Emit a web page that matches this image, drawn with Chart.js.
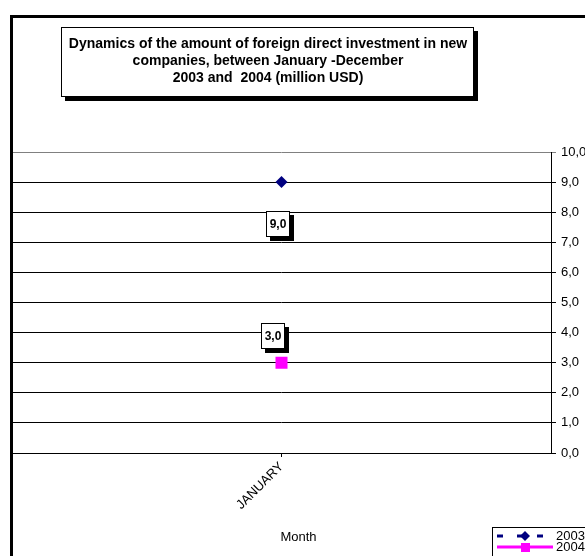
<!DOCTYPE html>
<html>
<head>
<meta charset="utf-8">
<script src="https://cdn.jsdelivr.net/npm/chart.js@4/dist/chart.umd.min.js"></script>
<style>
  html, body { margin: 0; padding: 0; background: #ffffff; }
  #c { display: block; }
</style>
</head>
<body>
<canvas id="c" width="585" height="556"></canvas>
<script>
const categories = ['JANUARY'];
const values2003 = [9.0];
const values2004 = [3.0];
const seriesNames = ['2003', '2004'];
const titleLines = [
  'Dynamics of the amount of foreign direct investment in new',
  'companies, between January -December',
  '2003 and  2004 (million USD)'
];
const xAxisTitle = 'Month';
const FONT = "Arial, 'Liberation Sans', sans-serif";

function fmt(v) { return Number(v).toFixed(1).replace('.', ','); }

function shadowBox(ctx, x, y, w, h, off) {
  ctx.fillStyle = '#000';
  ctx.fillRect(x + off, y + off, w, h);
  ctx.fillStyle = '#fff';
  ctx.fillRect(x, y, w, h);
  ctx.strokeStyle = '#000';
  ctx.lineWidth = 1;
  ctx.strokeRect(x + 0.5, y + 0.5, w - 1, h - 1);
}

const decor = {
  id: 'decor',
  afterDraw(chart) {
    const ctx = chart.ctx;
    const area = chart.chartArea;
    ctx.save();
    // outer frame
    ctx.strokeStyle = '#000';
    ctx.lineWidth = 3;
    ctx.strokeRect(11.5, 16.5, 600, 600);
    // title box
    shadowBox(ctx, 61, 27, 413, 70, 4);
    ctx.fillStyle = '#000';
    ctx.font = 'bold 14px ' + FONT;
    ctx.textAlign = 'center';
    ctx.textBaseline = 'middle';
    titleLines.forEach((t, i) => ctx.fillText(t, 268, 44 + i * 17));
    // data labels
    const labelOffsets = [[-4, 42], [-9, -27]];
    chart.data.datasets.forEach((ds, di) => {
      const meta = chart.getDatasetMeta(di);
      meta.data.forEach((pt, i) => {
        const cx = pt.x + labelOffsets[di][0];
        const cy = pt.y + labelOffsets[di][1];
        const w = 24, h = 26;
        shadowBox(ctx, Math.round(cx - w / 2), Math.round(cy - h / 2), w, h, 4);
        ctx.fillStyle = '#000';
        ctx.font = 'bold 12px ' + FONT;
        ctx.textAlign = 'center';
        ctx.textBaseline = 'middle';
        ctx.fillText(fmt(ds.data[i]), Math.round(cx), Math.round(cy) + 1);
      });
    });
    // x axis title
    ctx.fillStyle = '#000';
    ctx.font = '13px ' + FONT;
    ctx.textAlign = 'center';
    ctx.textBaseline = 'middle';
    ctx.fillText(xAxisTitle, (area.left + area.right) / 2 + 17, 537);
    // legend
    ctx.fillStyle = '#fff';
    ctx.fillRect(492, 527, 100, 40);
    ctx.strokeStyle = '#000';
    ctx.lineWidth = 1;
    ctx.strokeRect(492.5, 527.5, 100, 40);
    chart.data.datasets.forEach((ds, di) => {
      const y = 536 + di * 11;
      ctx.strokeStyle = ds.borderColor;
      ctx.lineWidth = 3;
      ctx.setLineDash(ds.borderDash || []);
      ctx.beginPath();
      ctx.moveTo(497, y);
      ctx.lineTo(553, y);
      ctx.stroke();
      ctx.setLineDash([]);
      ctx.fillStyle = ds.pointBackgroundColor;
      if (ds.pointStyle === 'rectRot') {
        ctx.beginPath();
        ctx.moveTo(525, y - 5); ctx.lineTo(530, y); ctx.lineTo(525, y + 5); ctx.lineTo(520, y);
        ctx.closePath(); ctx.fill();
      } else {
        ctx.fillRect(521, y - 4, 9, 9);
      }
      ctx.fillStyle = '#000';
      ctx.font = '13px ' + FONT;
      ctx.textAlign = 'left';
      ctx.textBaseline = 'middle';
      ctx.fillText(ds.label, 556, y);
    });
    ctx.restore();
  }
};

new Chart(document.getElementById('c'), {
  type: 'line',
  data: {
    labels: categories,
    datasets: [
      {
        label: seriesNames[0],
        data: values2003,
        borderColor: '#000080',
        backgroundColor: '#000080',
        borderDash: [6, 14],
        borderWidth: 3,
        pointStyle: 'rectRot',
        pointRadius: 6,
        pointHoverRadius: 6,
        pointBackgroundColor: '#000080',
        pointBorderColor: '#000080',
        pointBorderWidth: 0
      },
      {
        label: seriesNames[1],
        data: values2004,
        borderColor: '#ff00ff',
        backgroundColor: '#ff00ff',
        borderWidth: 3,
        pointStyle: 'rect',
        pointRadius: 8.5,
        pointHoverRadius: 8.5,
        pointBackgroundColor: '#ff00ff',
        pointBorderColor: '#ff00ff',
        pointBorderWidth: 0
      }
    ]
  },
  options: {
    responsive: false,
    animation: false,
    devicePixelRatio: 1,
    layout: { padding: { left: 12, top: 152, right: 0, bottom: 0 } },
    plugins: {
      legend: { display: false },
      title: { display: false },
      tooltip: { enabled: false }
    },
    scales: {
      x: {
        offset: true,
        grid: {
          display: true,
          drawOnChartArea: false,
          drawTicks: true,
          tickLength: 4,
          color: '#000',
          offset: false
        },
        border: { display: true, color: '#000', width: 1 },
        ticks: {
          minRotation: 45,
          maxRotation: 45,
          color: '#000',
          font: { family: FONT, size: 13 },
          padding: 2
        },
        afterFit(scale) { scale.height = 103; }
      },
      y: {
        position: 'right',
        min: 0,
        max: 10,
        ticks: {
          stepSize: 1,
          color: '#000',
          font: { family: FONT, size: 13 },
          padding: 5,
          callback: (v) => fmt(v)
        },
        grid: {
          color: (c) => (c.tick && c.tick.value === 10 ? '#808080' : '#000'),
          lineWidth: 1,
          tickLength: 5,
          drawTicks: true
        },
        border: { display: true, color: '#000', width: 1 },
        afterFit(scale) { scale.width = 34; }
      }
    }
  },
  plugins: [decor]
});
</script>
</body>
</html>
